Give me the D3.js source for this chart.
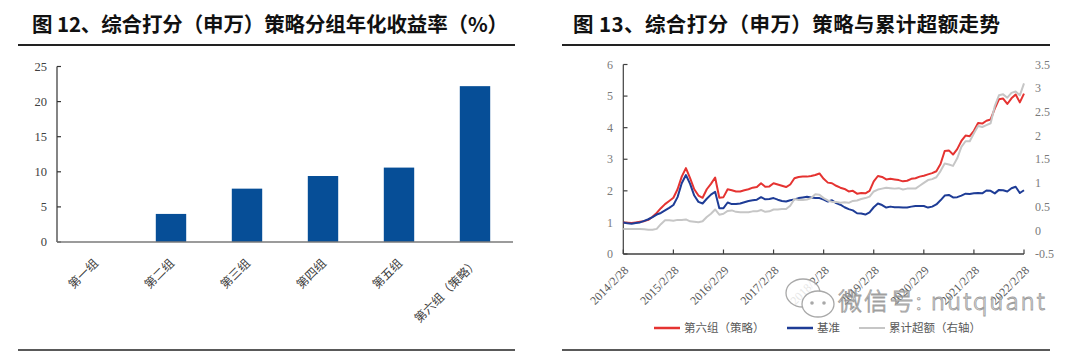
<!DOCTYPE html>
<html><head><meta charset="utf-8">
<script src="https://cdn.jsdelivr.net/npm/d3@7"></script>
<style>body{margin:0;background:#fff} svg{display:block}</style>
</head><body>
<svg id="c" width="1080" height="356"></svg>
<script>
// ---------- Figure 12 data ----------
const groupNames = ["第一组","第二组","第三组","第四组","第五组","第六组（策略）"];
const groupReturns = [0.0, 4.0, 7.6, 9.4, 10.6, 22.2];
const barTicks = [0, 5, 10, 15, 20, 25];

// ---------- Figure 13 data (monthly, 2014/2/28 .. 2022/2/28) ----------
const strategyNav = [1.00,0.99,0.98,1.00,1.02,1.04,1.08,1.18,1.30,1.45,
1.58,1.68,1.78,2.05,2.45,2.72,2.40,2.05,1.85,1.78,
2.05,2.22,2.42,1.78,1.80,2.05,2.02,1.98,1.98,2.02,
2.05,2.10,2.12,2.24,2.13,2.14,2.24,2.20,2.16,2.12,
2.20,2.40,2.44,2.45,2.45,2.47,2.50,2.55,2.38,2.26,
2.24,2.16,2.10,2.06,1.98,2.00,1.91,1.93,1.92,2.00,
2.30,2.47,2.44,2.36,2.38,2.36,2.34,2.30,2.32,2.38,
2.40,2.45,2.48,2.52,2.56,2.62,2.85,3.26,3.28,3.15,
3.32,3.58,3.75,3.73,3.90,4.15,4.13,4.22,4.26,4.60,
4.90,4.92,4.75,4.93,5.05,4.80,5.08];
const benchmarkNav = [1.00,0.97,0.96,0.98,1.00,1.05,1.10,1.17,1.25,1.30,
1.38,1.46,1.55,1.80,2.24,2.50,2.22,1.85,1.65,1.60,
1.75,1.88,1.97,1.45,1.45,1.63,1.58,1.58,1.60,1.64,
1.68,1.70,1.72,1.80,1.73,1.74,1.77,1.72,1.68,1.66,
1.70,1.73,1.77,1.79,1.81,1.79,1.77,1.77,1.72,1.66,
1.70,1.61,1.56,1.48,1.42,1.38,1.29,1.28,1.25,1.32,
1.48,1.60,1.55,1.47,1.50,1.48,1.48,1.47,1.47,1.50,
1.52,1.52,1.52,1.47,1.50,1.57,1.70,1.85,1.87,1.79,
1.80,1.85,1.91,1.90,1.92,1.93,1.92,2.01,2.00,1.92,
2.03,2.02,1.98,2.08,2.13,1.93,2.02];
const excessReturn = [0.03,0.03,0.03,0.03,0.03,0.02,0.01,0.01,0.03,0.13,
0.21,0.21,0.20,0.22,0.22,0.23,0.19,0.18,0.17,0.19,
0.28,0.35,0.44,0.33,0.35,0.41,0.42,0.39,0.38,0.38,
0.38,0.40,0.40,0.43,0.39,0.40,0.44,0.44,0.45,0.45,
0.52,0.66,0.64,0.64,0.65,0.68,0.76,0.75,0.68,0.63,
0.60,0.60,0.58,0.59,0.58,0.62,0.63,0.66,0.68,0.71,
0.82,0.86,0.88,0.90,0.89,0.88,0.89,0.86,0.88,0.88,
0.88,0.94,1.00,1.06,1.08,1.12,1.25,1.41,1.39,1.36,
1.52,1.76,1.88,1.88,2.05,2.20,2.18,2.22,2.26,2.62,
2.85,2.87,2.80,2.90,2.93,2.85,3.10];
const dateTickLabels = ["2014/2/28","2015/2/28","2016/2/29","2017/2/28","2018/2/28","2019/2/28","2020/2/29","2021/2/28","2022/2/28"];
const leftAxisTicks = [0,1,2,3,4,5,6];
const rightAxisTicks = [-0.5,0,0.5,1,1.5,2,2.5,3,3.5];
const legendNames = ["第六组（策略）","基准","累计超额（右轴）"];
const seriesColors = ["#e53331","#1e3c96","#c6c6c6"];

const titles = ["图 12、综合打分（申万）策略分组年化收益率（%）","图 13、综合打分（申万）策略与累计超额走势"];

const CJK = "'Noto Sans CJK SC', sans-serif";
const SERIF = "'Liberation Serif', 'Times New Roman', serif";

const svg = d3.select("#c");

// ---------- Titles and rules ----------
const titleSpecs = [{x:32, w:476, lx1:18, lx2:515}, {x:573, w:427, lx1:562, lx2:1050}];
titleSpecs.forEach((t, k) => {
  svg.append("text").attr("x", t.x).attr("y", 32)
    .attr("font-family", CJK).attr("font-weight", 700).attr("font-size", 20.5)
    .attr("fill", "#111").attr("textLength", t.w).attr("lengthAdjust", "spacing")
    .text(titles[k]);
  svg.append("line").attr("x1", t.lx1).attr("x2", t.lx2).attr("y1", 45).attr("y2", 45)
    .attr("stroke", "#222").attr("stroke-width", 1.8);
  svg.append("line").attr("x1", t.lx1).attr("x2", t.lx2).attr("y1", 350).attr("y2", 350)
    .attr("stroke", "#222").attr("stroke-width", 1.5);
});

// ---------- Figure 12: bar chart ----------
const bx = d3.scaleBand().domain(groupNames).range([57, 513]).paddingInner(0.6).paddingOuter(0.3);
const by = d3.scaleLinear().domain([0, 25]).range([242, 66.5]);
const g1 = svg.append("g");

g1.selectAll("rect.bar").data(groupReturns).join("rect").attr("class","bar")
  .attr("x", (d,i) => bx(groupNames[i]))
  .attr("width", bx.bandwidth())
  .attr("y", d => by(Math.max(0,d)))
  .attr("height", d => Math.abs(by(d) - by(0)))
  .attr("fill", "#064e97");

// y axis
g1.append("line").attr("x1",57).attr("x2",57).attr("y1",by(25)).attr("y2",by(0))
  .attr("stroke","#333").attr("stroke-width",1.2);
g1.selectAll("line.yt").data(barTicks).join("line").attr("class","yt")
  .attr("x1",57).attr("x2",61).attr("y1",d=>by(d)).attr("y2",d=>by(d))
  .attr("stroke","#333").attr("stroke-width",1.2);
g1.selectAll("text.yl").data(barTicks).join("text").attr("class","yl")
  .attr("x",47).attr("y",d=>by(d)).attr("dy","0.35em").attr("text-anchor","end")
  .attr("font-family",SERIF).attr("font-size",12.5).attr("fill","#404040").text(d=>d);
// x baseline
g1.append("line").attr("x1",57).attr("x2",513).attr("y1",by(0)).attr("y2",by(0))
  .attr("stroke","#7a7a7a").attr("stroke-width",1.6);
// x labels
g1.selectAll("text.xl").data(groupNames).join("text").attr("class","xl")
  .attr("transform", d => `translate(${bx(d)+bx.bandwidth()/2+4},264) rotate(-45)`)
  .attr("text-anchor","end")
  .attr("font-family",CJK).attr("font-size",12).attr("fill","#404040").text(d=>d);

// ---------- Figure 13: line chart ----------
const n = strategyNav.length;
const lx = d3.scaleLinear().domain([0, n-1]).range([623.3, 1024]);
const yL = d3.scaleLinear().domain([0, 6]).range([254, 64.5]);
const yR = d3.scaleLinear().domain([-0.5, 3.5]).range([254, 64.5]);
const g2 = svg.append("g");

// axes
g2.append("line").attr("x1",623.3).attr("x2",623.3).attr("y1",yL(6)).attr("y2",yL(0))
  .attr("stroke","#404040").attr("stroke-width",1.2);
g2.selectAll("line.lt").data(leftAxisTicks).join("line").attr("class","lt")
  .attr("x1",623.3).attr("x2",627.5).attr("y1",d=>yL(d)).attr("y2",d=>yL(d))
  .attr("stroke","#404040").attr("stroke-width",1.2);
g2.selectAll("text.ll").data(leftAxisTicks).join("text").attr("class","ll")
  .attr("x",613).attr("y",d=>yL(d)).attr("dy","0.35em").attr("text-anchor","end")
  .attr("font-family",SERIF).attr("font-size",12).attr("fill","#7a7a7a").text(d=>d);
g2.selectAll("text.rl").data(rightAxisTicks).join("text").attr("class","rl")
  .attr("x",1035).attr("y",d=>yR(d)).attr("dy","0.35em").attr("text-anchor","start")
  .attr("font-family",SERIF).attr("font-size",12).attr("fill","#7a7a7a").text(d=>d);
g2.append("line").attr("x1",623.3).attr("x2",1024).attr("y1",yL(0)).attr("y2",yL(0))
  .attr("stroke","#404040").attr("stroke-width",1.4);
const tickIdx = dateTickLabels.map((d,k) => k*12);
g2.selectAll("line.xt").data(tickIdx).join("line").attr("class","xt")
  .attr("x1",d=>lx(d)).attr("x2",d=>lx(d)).attr("y1",yL(0)).attr("y2",yL(0)-4.5)
  .attr("stroke","#404040").attr("stroke-width",1.2);
g2.selectAll("text.xl2").data(dateTickLabels).join("text").attr("class","xl2")
  .attr("transform",(d,k)=>`translate(${lx(tickIdx[k])+6},271) rotate(-45)`)
  .attr("text-anchor","end")
  .attr("font-family",SERIF).attr("font-size",12).attr("fill","#595959").text(d=>d);

// lines
const lineL = d3.line().x((d,i)=>lx(i)).y(d=>yL(d));
const lineR = d3.line().x((d,i)=>lx(i)).y(d=>yR(d));
g2.append("path").attr("d",lineL(strategyNav)).attr("fill","none")
  .attr("stroke",seriesColors[0]).attr("stroke-width",2).attr("stroke-linejoin","round");
g2.append("path").attr("d",lineL(benchmarkNav)).attr("fill","none")
  .attr("stroke",seriesColors[1]).attr("stroke-width",2).attr("stroke-linejoin","round");
g2.append("path").attr("d",lineR(excessReturn)).attr("fill","none")
  .attr("stroke",seriesColors[2]).attr("stroke-width",2).attr("stroke-linejoin","round");

// watermark
const wm = svg.append("g").attr("opacity",0.85);
wm.append("ellipse").attr("cx",803).attr("cy",293).attr("rx",17).attr("ry",14)
  .attr("fill","#fff").attr("stroke","#9a9a9a").attr("stroke-width",1.3);
wm.append("ellipse").attr("cx",818).attr("cy",304).attr("rx",16).attr("ry",13)
  .attr("fill","#fff").attr("stroke","#9a9a9a").attr("stroke-width",1.3);
[[812,303],[824,303]].forEach(p => wm.append("circle").attr("cx",p[0]).attr("cy",p[1]).attr("r",1.8).attr("fill","#9a9a9a"));
wm.append("text").attr("x",838).attr("y",310)
  .attr("font-family",CJK).attr("font-weight",300).attr("font-size",24)
  .attr("fill","#fff").attr("stroke","#8f8f8f").attr("stroke-width",0.9)
  .attr("textLength",207).attr("lengthAdjust","spacing")
  .text("微信号: nutquant");

// legend
const legX = [654, 787, 859];
legendNames.forEach((name,k) => {
  svg.append("line").attr("x1",legX[k]).attr("x2",legX[k]+26).attr("y1",328).attr("y2",328)
    .attr("stroke",seriesColors[k]).attr("stroke-width",k===2 ? 2 : 2.5);
  svg.append("text").attr("x",legX[k]+30).attr("y",328).attr("dy","0.35em")
    .attr("font-family",CJK).attr("font-size",11.5).attr("fill","#595959").text(name);
});
</script>
</body></html>
